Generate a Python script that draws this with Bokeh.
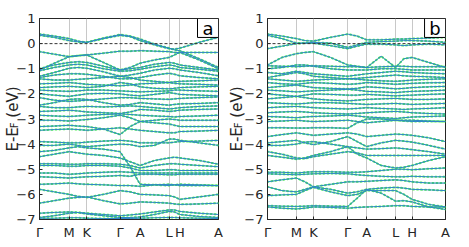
from bokeh.plotting import figure
from bokeh.layouts import row
from bokeh.models import Range1d, FixedTicker, Label, Span, LinearAxis
from bokeh.embed import file_html
from bokeh.resources import INLINE

# ---------------- data ----------------
tick_labels = ["Γ", "M", "K", "Γ", "A", "L", "H", "A"]

# panel a: k-path positions (high-symmetry points and segment midpoints)
ka_sym = [0, 29.6, 47.3, 80.6, 100.6, 129.6, 140.3, 179]
ka = [0, 14.8, 29.6, 38.45, 47.3, 63.95, 80.6, 90.6, 100.6, 115.1, 129.6, 134.95, 140.3, 159.65, 179]

a01 = [0.38, 0.30, 0.20, 0.10, 0.05, 0.22, 0.36, 0.30, 0.18, -0.02, -0.18, -0.25, -0.28, -0.60, -0.95]
a02 = [0.33, 0.25, 0.12, 0.07, 0.05, 0.20, 0.33, 0.28, 0.12, -0.05, -0.20, -0.22, -0.18, 0.05, 0.25]
a03 = [-0.32, -0.42, -0.52, -0.48, -0.45, -0.38, -0.30, -0.30, -0.28, -0.30, -0.32, -0.35, -0.35, -0.35, -0.35]
a04 = [-1.05, -0.78, -0.52, -0.48, -0.45, -0.75, -1.05, -0.95, -0.78, -0.65, -0.55, -0.45, -0.35, -0.65, -1.00]
a05 = [-1.00, -0.85, -0.75, -0.72, -0.75, -0.90, -1.05, -1.00, -0.95, -0.82, -0.75, -0.78, -0.85, -0.95, -1.05]
a06 = [-1.08, -0.95, -0.85, -0.82, -0.85, -1.00, -1.10, -1.08, -1.02, -0.92, -0.85, -0.88, -0.95, -1.02, -1.10]
a07 = [-1.30, -1.15, -0.98, -0.95, -0.98, -1.12, -1.30, -1.25, -1.18, -1.05, -0.98, -1.00, -1.05, -1.15, -1.28]
a08 = [-1.35, -1.25, -1.20, -1.20, -1.22, -1.30, -1.40, -1.40, -1.35, -1.25, -1.18, -1.22, -1.28, -1.35, -1.40]
a09 = [-1.40, -1.45, -1.45, -1.42, -1.40, -1.35, -1.30, -1.35, -1.45, -1.50, -1.55, -1.52, -1.50, -1.48, -1.45]
a10 = [-1.60, -1.58, -1.55, -1.58, -1.62, -1.65, -1.68, -1.65, -1.60, -1.58, -1.55, -1.58, -1.60, -1.62, -1.65]
a11 = [-1.75, -1.72, -1.70, -1.72, -1.75, -1.70, -1.55, -1.60, -1.72, -1.78, -1.80, -1.78, -1.75, -1.72, -1.70]
a12 = [-1.85, -1.88, -1.90, -1.88, -1.85, -1.85, -1.88, -1.90, -1.92, -1.90, -1.88, -1.85, -1.85, -1.88, -1.90]
a13 = [-2.00, -2.05, -2.10, -2.05, -2.00, -1.98, -2.00, -2.05, -2.08, -2.02, -1.95, -1.98, -2.02, -2.05, -2.08]
a14 = [-2.15, -2.25, -2.30, -2.28, -2.25, -2.20, -2.15, -2.15, -2.18, -2.20, -2.22, -2.20, -2.18, -2.15, -2.12]
a15 = [-2.45, -2.35, -2.22, -2.20, -2.22, -2.35, -2.45, -2.42, -2.35, -2.40, -2.45, -2.42, -2.40, -2.38, -2.35]
a16 = [-2.50, -2.55, -2.55, -2.52, -2.50, -2.52, -2.50, -2.48, -2.50, -2.55, -2.60, -2.58, -2.55, -2.50, -2.48]
a17 = [-2.70, -2.68, -2.65, -2.68, -2.72, -2.75, -2.78, -2.72, -2.62, -2.65, -2.70, -2.68, -2.65, -2.62, -2.60]
a18 = [-2.85, -2.88, -2.90, -2.88, -2.85, -2.82, -2.80, -2.82, -2.85, -2.88, -2.90, -2.92, -2.90, -2.88, -2.85]
a19 = [-3.05, -3.05, -3.08, -3.05, -3.02, -2.95, -2.85, -2.95, -3.10, -3.05, -3.00, -3.02, -3.05, -3.05, -3.05]
a20 = [-3.30, -3.28, -3.25, -3.28, -3.30, -3.40, -3.62, -3.30, -3.10, -3.15, -3.20, -3.25, -3.30, -3.30, -3.30]
a21 = [-3.45, -3.42, -3.40, -3.42, -3.45, -3.40, -3.35, -3.40, -3.45, -3.50, -3.55, -3.55, -3.50, -3.48, -3.45]
a22 = [-3.90, -3.92, -3.95, -3.95, -3.92, -3.88, -3.85, -3.88, -3.95, -3.95, -3.95, -3.92, -3.90, -3.88, -3.85]
a23 = [-4.05, -4.05, -4.00, -4.05, -4.10, -4.05, -4.00, -4.02, -4.10, -4.05, -3.80, -3.80, -3.85, -3.95, -4.05]
a24 = [-4.30, -4.25, -4.15, -4.10, -4.15, -4.20, -4.30, -4.90, -5.60, -5.62, -5.65, -5.62, -5.60, -5.62, -5.65]
a25 = [-4.50, -4.40, -4.30, -4.35, -4.40, -4.45, -4.55, -4.70, -4.85, -4.65, -4.55, -4.52, -4.55, -4.65, -4.80]
a26 = [-4.78, -4.78, -4.80, -4.80, -4.78, -4.78, -4.80, -4.85, -4.95, -4.85, -4.78, -4.78, -4.80, -4.85, -4.90]
a27 = [-4.85, -4.85, -4.88, -4.88, -4.85, -4.85, -4.88, -4.95, -5.05, -5.05, -5.02, -5.02, -5.05, -5.05, -5.05]
a28 = [-5.15, -5.15, -5.20, -5.18, -5.15, -5.12, -5.10, -5.12, -5.15, -5.15, -5.15, -5.15, -5.15, -5.15, -5.15]
a29 = [-5.30, -5.32, -5.35, -5.32, -5.30, -5.28, -5.25, -5.28, -5.20, -5.20, -5.22, -5.22, -5.20, -5.20, -5.20]
a30 = [-5.60, -5.58, -5.55, -5.58, -5.60, -5.62, -5.65, -5.65, -5.68, -5.62, -5.60, -5.62, -5.65, -5.65, -5.65]
a31 = [-5.80, -5.90, -6.00, -6.08, -6.12, -6.00, -5.85, -5.90, -6.00, -6.02, -6.05, -6.10, -6.20, -6.10, -6.00]
a32 = [-6.35, -6.25, -6.15, -6.12, -6.10, -6.25, -6.38, -6.35, -6.30, -6.32, -6.35, -6.38, -6.40, -6.38, -6.35]
a33 = [-6.75, -6.72, -6.70, -6.72, -6.75, -6.80, -6.85, -6.82, -6.78, -6.70, -6.62, -6.62, -6.68, -6.75, -6.80]
a34 = [-6.92, -6.85, -6.75, -6.72, -6.78, -6.85, -6.92, -6.92, -6.90, -6.80, -6.68, -6.70, -6.80, -6.88, -6.92]
a35 = [-6.95, -6.95, -6.93, -6.93, -6.95, -6.96, -6.96, -6.96, -6.95, -6.93, -6.92, -6.92, -6.93, -6.95, -6.96]

bands_a = [a01, a02, a03, a04, a05, a06, a07, a08, a09, a10, a11, a12, a13, a14, a15, a16, a17, a18,
           a19, a20, a21, a22, a23, a24, a25, a26, a27, a28, a29, a30, a31, a32, a33, a34, a35]

# panel b
kb_sym = [0, 29, 46, 80.4, 99.4, 128.4, 145, 178.4]
kb = [0, 14.5, 29, 37.5, 46, 63.2, 80.4, 89.9, 99.4, 113.9, 128.4, 136.7, 145, 161.7, 178.4]

b01 = [0.38, 0.30, 0.20, 0.12, 0.10, 0.25, 0.38, 0.30, 0.15, 0.15, 0.18, 0.18, 0.20, 0.22, 0.25]
b02 = [0.33, 0.20, 0.02, 0.02, 0.05, 0.02, -0.15, -0.05, 0.05, 0.08, 0.10, 0.12, 0.12, 0.10, 0.05]
b03 = [-0.20, -0.10, 0.00, 0.02, 0.02, -0.08, -0.20, -0.10, -0.02, -0.02, -0.05, -0.08, -0.05, -0.02, -0.05]
b04 = [-0.85, -0.55, -0.40, -0.35, -0.32, -0.55, -0.85, -0.90, -0.95, -0.50, -0.95, -0.60, -0.55, -0.75, -0.95]
b05 = [-0.88, -0.90, -0.92, -0.90, -0.88, -0.90, -0.92, -0.92, -0.95, -0.92, -0.90, -0.90, -0.92, -0.92, -0.92]
b06 = [-1.00, -0.95, -0.85, -0.85, -0.90, -1.00, -1.05, -1.05, -1.05, -1.00, -1.00, -1.02, -1.05, -1.05, -1.05]
b07 = [-1.15, -1.20, -1.10, -1.15, -1.20, -1.25, -1.30, -1.25, -1.20, -1.15, -1.10, -1.12, -1.15, -1.18, -1.20]
b08 = [-1.35, -1.25, -1.15, -1.20, -1.30, -1.35, -1.40, -1.38, -1.35, -1.30, -1.25, -1.28, -1.30, -1.32, -1.35]
b09 = [-1.40, -1.45, -1.50, -1.48, -1.45, -1.42, -1.40, -1.42, -1.45, -1.48, -1.50, -1.48, -1.45, -1.42, -1.40]
b10 = [-1.55, -1.60, -1.62, -1.58, -1.55, -1.58, -1.62, -1.60, -1.55, -1.58, -1.62, -1.60, -1.58, -1.56, -1.55]
b11 = [-1.75, -1.70, -1.65, -1.70, -1.75, -1.78, -1.80, -1.78, -1.72, -1.75, -1.80, -1.78, -1.75, -1.72, -1.70]
b12 = [-1.85, -1.88, -1.92, -1.90, -1.88, -1.85, -1.82, -1.85, -1.90, -1.92, -1.95, -1.92, -1.90, -1.88, -1.85]
b13 = [-2.00, -2.05, -2.10, -2.05, -2.00, -2.02, -2.05, -2.05, -2.02, -2.05, -2.08, -2.06, -2.05, -2.02, -2.00]
b14 = [-2.20, -2.15, -2.10, -2.15, -2.20, -2.25, -2.28, -2.25, -2.22, -2.20, -2.18, -2.20, -2.22, -2.22, -2.20]
b15 = [-2.35, -2.38, -2.40, -2.38, -2.35, -2.35, -2.38, -2.40, -2.42, -2.40, -2.38, -2.40, -2.42, -2.40, -2.38]
b16 = [-2.55, -2.52, -2.50, -2.52, -2.55, -2.58, -2.60, -2.58, -2.55, -2.58, -2.60, -2.62, -2.60, -2.58, -2.55]
b17 = [-2.75, -2.72, -2.70, -2.72, -2.75, -2.78, -2.80, -2.78, -2.75, -2.72, -2.70, -2.72, -2.75, -2.78, -2.80]
b18 = [-2.90, -2.92, -2.95, -2.92, -2.90, -2.88, -2.85, -2.88, -2.92, -2.95, -2.98, -2.95, -2.92, -2.90, -2.88]
b19 = [-3.10, -3.08, -3.05, -3.08, -3.10, -3.08, -3.05, -3.10, -3.15, -3.10, -3.05, -3.08, -3.10, -3.10, -3.10]
b20 = [-3.35, -3.35, -3.36, -3.36, -3.35, -3.35, -3.37, -3.15, -3.00, -3.00, -3.05, -3.05, -3.05, -3.08, -3.10]
b21 = [-3.70, -3.62, -3.55, -3.60, -3.65, -3.60, -3.55, -3.60, -3.70, -3.65, -3.60, -3.62, -3.65, -3.75, -3.90]
b22 = [-3.95, -3.90, -3.85, -3.95, -4.02, -3.90, -3.70, -3.90, -4.10, -3.95, -3.85, -3.88, -3.92, -4.05, -4.20]
b23 = [-4.05, -4.05, -4.00, -3.92, -3.90, -4.00, -4.10, -4.15, -4.20, -4.18, -4.15, -4.18, -4.22, -4.30, -4.40]
b24 = [-4.30, -4.40, -4.55, -4.58, -4.50, -4.40, -4.30, -4.35, -4.45, -4.45, -4.45, -4.45, -4.45, -4.45, -4.45]
b25 = [-4.45, -4.52, -4.60, -4.55, -4.45, -4.30, -4.10, -4.40, -4.55, -4.85, -4.95, -4.92, -4.85, -4.65, -4.50]
b26 = [-5.12, -5.12, -5.15, -5.12, -5.10, -5.10, -5.12, -5.12, -5.10, -5.05, -5.00, -5.00, -5.02, -4.98, -4.95]
b27 = [-5.18, -5.20, -5.22, -5.20, -5.18, -5.17, -5.18, -5.22, -5.25, -5.28, -5.30, -5.30, -5.28, -5.30, -5.30]
b28 = [-5.50, -5.42, -5.35, -5.50, -5.70, -5.60, -5.50, -5.50, -5.48, -5.45, -5.42, -5.45, -5.50, -5.55, -5.55]
b29 = [-5.70, -5.85, -5.90, -5.80, -5.70, -5.80, -5.95, -5.90, -5.80, -5.75, -5.72, -5.75, -5.80, -5.82, -5.85]
b30 = [-6.05, -6.02, -6.00, -5.85, -5.72, -5.90, -6.05, -6.00, -5.85, -5.85, -5.85, -6.00, -6.20, -6.40, -6.50]
b31 = [-6.45, -6.47, -6.48, -6.47, -6.45, -6.47, -6.48, -6.15, -5.80, -5.95, -6.27, -6.25, -6.30, -6.50, -6.60]
b32 = [-6.50, -6.55, -6.58, -6.55, -6.50, -6.52, -6.55, -6.52, -6.50, -6.48, -6.45, -6.45, -6.48, -6.50, -6.50]

bands_b = [b01, b02, b03, b04, b05, b06, b07, b08, b09, b10, b11, b12, b13, b14, b15, b16,
           b17, b18, b19, b20, b21, b22, b23, b24, b25, b26, b27, b28, b29, b30, b31, b32]

y_ticks = [1, 0, -1, -2, -3, -4, -5, -6, -7]

# ---------------- styling ----------------
BLUE = "#2f86c8"
GREEN = "#3ef03e"
DARK = "#262626"
FONT = "DejaVu Sans"
NB = "\u00a0"
TOP, FRAME_H, BOTTOM = 18, 201, 21


def make_panel(k, k_sym, bands, letter, border_left, border_right, sub_standoff, main_standoff):
    kmax = k_sym[-1]
    p = figure(frame_width=int(round(kmax)), frame_height=FRAME_H,
               min_border_left=border_left, min_border_right=border_right,
               min_border_top=TOP, min_border_bottom=BOTTOM,
               x_range=Range1d(0, kmax), y_range=Range1d(-7, 1),
               output_backend="svg", toolbar_location=None)
    p.background_fill_color = "white"
    p.border_fill_color = "white"
    p.outline_line_color = DARK
    p.outline_line_width = 1

    p.xaxis.ticker = FixedTicker(ticks=k_sym)
    p.xaxis.major_label_overrides = {t: lab for t, lab in zip(k_sym, tick_labels)}
    p.yaxis.ticker = FixedTicker(ticks=y_ticks)
    for ax in (p.xaxis, p.yaxis):
        ax.major_label_text_font = FONT
        ax.major_label_text_font_size = "13px"
        ax.major_label_text_color = DARK
        ax.axis_line_color = DARK
        ax.major_tick_line_color = DARK
        ax.major_tick_in = 3
        ax.major_tick_out = 0
        ax.minor_tick_line_color = None
    p.xaxis.major_label_standoff = 5
    p.yaxis.major_label_standoff = 4

    # subscript "F" of the y label sits on the inner axis
    p.yaxis.axis_label = "F" + NB * 4
    p.yaxis.axis_label_text_font = FONT
    p.yaxis.axis_label_text_font_size = "10px"
    p.yaxis.axis_label_text_font_style = "normal"
    p.yaxis.axis_label_text_color = DARK
    p.yaxis.axis_label_standoff = sub_standoff

    # main part of the y label on an outer, otherwise empty axis
    outer = LinearAxis(ticker=FixedTicker(ticks=[]), axis_line_color=None,
                       major_tick_line_color=None, minor_tick_line_color=None,
                       major_label_text_font_size="0px", major_label_standoff=0,
                       major_tick_in=0, major_tick_out=0,
                       axis_label="E-E" + NB + NB + "(eV)",
                       axis_label_text_font=FONT, axis_label_text_font_size="15px",
                       axis_label_text_font_style="normal",
                       axis_label_text_color=DARK, axis_label_standoff=main_standoff)
    p.add_layout(outer, "left")

    p.xgrid.grid_line_color = "#c8c8c8"
    p.xgrid.grid_line_width = 1
    p.ygrid.grid_line_color = None

    p.add_layout(Span(location=0, dimension="width", line_color="#333333",
                      line_dash="3 2", line_width=1))

    xs = [k] * len(bands)
    p.multi_line(xs=xs, ys=bands, line_color=GREEN, line_width=2.0,
                 line_dash="1 3", line_cap="round", line_alpha=0.9)
    p.multi_line(xs=xs, ys=bands, line_color=BLUE, line_width=1.0)

    # panel letter box
    p.quad(left=kmax - 21, right=kmax, bottom=0.246, top=1.0,
           fill_color="white", line_color="black", line_width=1)
    p.add_layout(Label(x=kmax - 10.5, y=0.62, text=letter, text_align="center",
                       text_baseline="middle", text_font=FONT,
                       text_font_size="18px", text_color="black"))
    return p


pa = make_panel(ka, ka_sym, bands_a, "a", 39, 6, -7, -15)
pb = make_panel(kb, kb_sym, bands_b, "b", 43, 8, -3, -15)

layout = row(pa, pb)
open("out.html", "w").write(file_html(layout, INLINE))
